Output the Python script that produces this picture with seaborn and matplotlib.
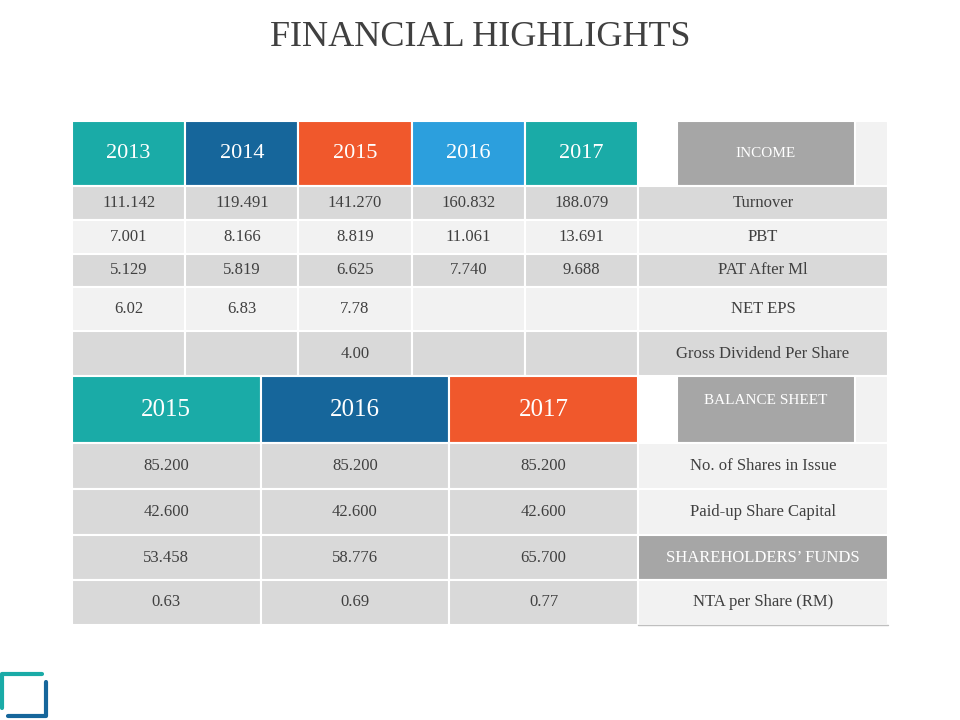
import matplotlib.pyplot as plt
import matplotlib.patches as patches
import seaborn as sns

sns.set_style("white")

# =========================
# dados
# =========================
anos_topo = ["2013", "2014", "2015", "2016", "2017"]
cores_topo = ["#1aaba7", "#16669b", "#f0582c", "#2c9fdd", "#1aaba7"]
turnover = ["111.142", "119.491", "141.270", "160.832", "188.079"]
pbt = ["7.001", "8.166", "8.819", "11.061", "13.691"]
pat = ["5.129", "5.819", "6.625", "7.740", "9.688"]
net_eps = ["6.02", "6.83", "7.78", "", ""]
dividendo = ["", "", "4.00", "", ""]
rotulos_topo = ["Turnover", "PBT", "PAT After Ml", "NET EPS", "Gross Dividend Per Share"]

anos_base = ["2015", "2016", "2017"]
cores_base = ["#1aaba7", "#16669b", "#f0582c"]
acoes = ["85.200", "85.200", "85.200"]
capital = ["42.600", "42.600", "42.600"]
fundos = ["53.458", "58.776", "65.700"]
nta = ["0.63", "0.69", "0.77"]
rotulos_base = ["No. of Shares in Issue", "Paid-up Share Capital",
                "SHAREHOLDERS\u2019 FUNDS", "NTA per Share (RM)"]

# =========================
# layout (pixels)
# =========================
FONTE = "Liberation Serif"
ESCURO = "#d9d9d9"
CLARO = "#f2f2f2"
CINZA = "#a6a6a6"
TEXTO = "#404040"
X0, X1, X2 = 72, 638, 888

fig = plt.figure(figsize=(9.6, 7.2), dpi=100)
ax = fig.add_axes([0, 0, 1, 1])
ax.set_xlim(0, 960)
ax.set_ylim(720, 0)
ax.axis("off")


def celula(x, y, w, h, cor, texto="", tam=12, cor_texto=TEXTO, borda="white"):
    ax.add_patch(patches.Rectangle((x, y), w, h, facecolor=cor,
                                   edgecolor=borda, linewidth=1.5))
    if texto:
        ax.text(x + w / 2, y + h / 2, texto, ha="center", va="center",
                fontsize=tam, color=cor_texto, family=FONTE)


ax.text(480, 38, "FINANCIAL HIGHLIGHTS", ha="center", va="center",
        fontsize=26, color=TEXTO, family=FONTE)

# tabela superior
larg = (X1 - X0) / len(anos_topo)
y_head, h_head = 121, 65
for i, (ano, cor) in enumerate(zip(anos_topo, cores_topo)):
    celula(X0 + i * larg, y_head, larg, h_head, cor, ano, tam=16, cor_texto="white")
celula(X1, y_head, X2 - X1, h_head, "white", borda="none")
celula(855, y_head, X2 - 855, h_head, CLARO)
celula(677, y_head, 178, h_head, CINZA, "INCOME", tam=11, cor_texto="white")

linhas_topo = [turnover, pbt, pat, net_eps, dividendo]
alturas_topo = [34, 34, 33, 44, 45]
cores_linhas = [ESCURO, CLARO, ESCURO, CLARO, ESCURO]
y = y_head + h_head
for valores, h, cor, rot in zip(linhas_topo, alturas_topo, cores_linhas, rotulos_topo):
    for i, v in enumerate(valores):
        celula(X0 + i * larg, y, larg, h, cor, v)
    celula(X1, y, X2 - X1, h, cor, rot)
    y += h

# tabela inferior
larg = (X1 - X0) / len(anos_base)
y_head, h_head = y, 67
for i, (ano, cor) in enumerate(zip(anos_base, cores_base)):
    celula(X0 + i * larg, y_head, larg, h_head, cor, ano, tam=18, cor_texto="white")
celula(855, y_head, X2 - 855, h_head, CLARO)
ax.add_patch(patches.Rectangle((677, y_head), 178, h_head, facecolor=CINZA,
                               edgecolor="white", linewidth=1.5))
ax.text(766, y_head + 24, "BALANCE SHEET", ha="center", va="center",
        fontsize=11, color="white", family=FONTE)

linhas_base = [acoes, capital, fundos, nta]
y = y_head + h_head
for k, (valores, rot) in enumerate(zip(linhas_base, rotulos_base)):
    h = 46 if k < 2 else 45
    for i, v in enumerate(valores):
        celula(X0 + i * larg, y, larg, h, ESCURO, v)
    if k == 2:
        celula(X1, y, X2 - X1, h, CINZA, rot, cor_texto="white")
    else:
        celula(X1, y, X2 - X1, h, CLARO, rot)
    y += h
ax.plot([X1, X2], [y, y], color="#bfbfbf", linewidth=1)

# logotipo no canto
ax.plot([2, 2, 42], [708, 674, 674], color="#1aaba7", linewidth=3)
ax.plot([8, 46, 46], [716, 716, 682], color="#16669b", linewidth=3)

plt.savefig("out.png", dpi=100)
